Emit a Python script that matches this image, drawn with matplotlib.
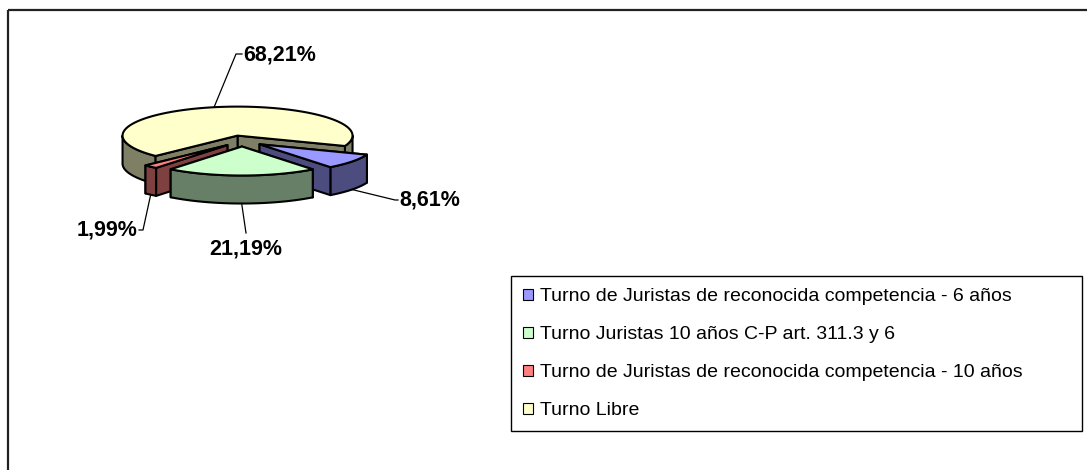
import numpy as np
import matplotlib
matplotlib.use("Agg")
import matplotlib.pyplot as plt
from matplotlib.patches import Polygon, Patch, Rectangle

# data
categories = ["Turno de Juristas de reconocida competencia - 6 años",
              "Turno Juristas 10 años C-P art. 311.3 y 6",
              "Turno de Juristas de reconocida competencia - 10 años",
              "Turno Libre"]
shares = [8.61, 21.19, 1.99, 68.21]
top_colors = ["#9999FF", "#CCFFCC", "#FF8080", "#FFFFCC"]
side_colors = ["#4C4C7F", "#667F66", "#7F4040", "#7F7F66"]

# layout (pixels)
CX, CY = 242, 141
RX, RY = 115, 29
DEPTH = 28
EXPLODE = 0.19
START = np.deg2rad(-21)
# label position, elbow point, alignment per slice
label_pos = [(399, 200), (246, 249), (138, 230), (243, 55)]
elbows = [(395, 200), (246, 233), (143, 230), (236, 54)]
label_ha = ["left", "center", "right", "left"]

plt.rcParams["font.family"] = ["Liberation Sans", "DejaVu Sans"]

fig = plt.figure(figsize=(10.87, 4.70), dpi=100)
ax = fig.add_axes([0, 0, 1, 1])
ax.set_xlim(0, 1087)
ax.set_ylim(470, 0)
ax.axis("off")

# chart frame (runs off the right and bottom edge)
ax.add_patch(Rectangle((8, 10), 1200, 600, fill=False, ec="#222222", lw=1.6))

cum = np.concatenate([[0], np.cumsum(shares)]) / 100.0
edges = START - 2 * np.pi * cum


def pt(c, t, down=0.0):
    return (c[0] + RX * np.cos(t), c[1] - RY * np.sin(t) + down)


def arc(c, a, b, down=0.0, n=80):
    ts = np.linspace(a, b, n)
    return [pt(c, t, down) for t in ts]


def poly(pts, fc):
    ax.add_patch(Polygon(pts, closed=True, fc=fc, ec="black", lw=1.5,
                         joinstyle="round"))


centers = []
for i in range(len(shares)):
    hi, lo = edges[i], edges[i + 1]
    mid = (hi + lo) / 2
    centers.append((CX + EXPLODE * RX * np.cos(mid),
                    CY - EXPLODE * RY * np.sin(mid)))

for i in [3, 2, 0, 1]:
    hi, lo = edges[i], edges[i + 1]
    c = centers[i]
    cb = (c[0], c[1] + DEPTH)
    faces = []
    for t, vis in [(lo, np.cos(lo) > 0), (hi, np.cos(hi) < 0)]:
        quad = [c, pt(c, t), pt(c, t, DEPTH), cb]
        faces.append((vis, quad))
    for vis, quad in faces:
        if not vis:
            poly(quad, side_colors[i])
    # outer wall, front half only
    for k in range(-2, 2):
        a = max(lo, -np.pi + 2 * np.pi * k)
        b = min(hi, 2 * np.pi * k)
        if b > a:
            poly(arc(c, a, b) + arc(c, b, a, DEPTH), side_colors[i])
    for vis, quad in faces:
        if vis:
            poly(quad, side_colors[i])
    poly([c] + arc(c, lo, hi), top_colors[i])

# labels with leader lines
for i, v in enumerate(shares):
    hi, lo = edges[i], edges[i + 1]
    mid = (hi + lo) / 2
    c = centers[i]
    if np.sin(mid) > 0:
        anchor = pt(c, mid)
    else:
        anchor = pt(c, mid, DEPTH)
    ex, ey = elbows[i]
    lx, ly = label_pos[i]
    xs = [anchor[0], ex]
    ys = [anchor[1], ey]
    if label_ha[i] != "center":
        xs.append(lx + (1 if label_ha[i] == "right" else -1))
        ys.append(ey)
    ax.plot(xs, ys, color="black", lw=0.9)
    txt = "{:.2f}".format(v).replace(".", ",") + "%"
    ax.text(lx, ly, txt, ha=label_ha[i], va="center", fontsize=15.5,
            fontweight="bold")

handles = [Patch(fc=top_colors[i], ec="black", lw=0.8)
           for i in range(len(categories))]
leg = ax.legend(handles, categories, loc="upper left",
                bbox_to_anchor=(511 / 1087, 1 - 432 / 470, 571 / 1087, 156 / 470),
                bbox_transform=fig.transFigure, mode="expand",
                borderaxespad=0, fontsize=14, handlelength=0.5,
                handleheight=0.5, handletextpad=0.38, borderpad=0.62,
                labelspacing=1.08, fancybox=False, framealpha=1,
                edgecolor="black")
leg.get_frame().set_linewidth(1.0)

fig.savefig("out.png", dpi=100)
